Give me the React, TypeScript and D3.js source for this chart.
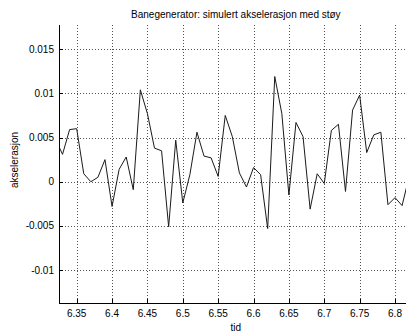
import React from "react";
import * as d3 from "d3";

// Sample times (s) and simulated acceleration with noise
const tid = [
  6.32, 6.33, 6.34, 6.35, 6.36, 6.37, 6.38, 6.39, 6.4, 6.41,
  6.42, 6.43, 6.44, 6.45, 6.46, 6.47, 6.48, 6.49, 6.5, 6.51,
  6.52, 6.53, 6.54, 6.55, 6.56, 6.57, 6.58, 6.59, 6.6, 6.61,
  6.62, 6.63, 6.64, 6.65, 6.66, 6.67, 6.68, 6.69, 6.7, 6.71,
  6.72, 6.73, 6.74, 6.75, 6.76, 6.77, 6.78, 6.79, 6.8, 6.81, 6.82,
];
const akselerasjon = [
  0.0048, 0.0031, 0.0059, 0.006, 0.0009, 0.0, 0.0005, 0.0025, -0.0028, 0.0014,
  0.0028, -0.0009, 0.0104, 0.0077, 0.0038, 0.0035, -0.0051, 0.0047, -0.0024, 0.0008,
  0.0056, 0.0029, 0.0027, 0.0006, 0.0075, 0.0051, 0.001, -0.0006, 0.0016, 0.0008,
  -0.0053, 0.0119, 0.0077, -0.0015, 0.0067, 0.0051, -0.0031, 0.0009, -0.0002, 0.0058,
  0.0065, -0.0011, 0.0081, 0.0098, 0.0033, 0.0053, 0.0056, -0.0026, -0.0018, -0.0027, 0.0006,
];

const xTicks = [6.35, 6.4, 6.45, 6.5, 6.55, 6.6, 6.65, 6.7, 6.75, 6.8];
const yTicks = [-0.01, -0.005, 0, 0.005, 0.01, 0.015];
const xDomain = [6.325, 6.825];
const yDomain = [-0.01372, 0.01773];

const W = 406;
const H = 336;
const left = 59;
const right = 412.7;
const top = 25;
const bottom = 303;
const font = "'Liberation Sans', Arial, Helvetica, sans-serif";

export default function App() {
  const x = d3.scaleLinear().domain(xDomain).range([left, right]);
  const y = d3.scaleLinear().domain(yDomain).range([bottom, top]);
  const line = d3
    .line<number>()
    .x((_, i) => x(tid[i]))
    .y((d) => y(d));

  const fmt = (v: number) => String(+v.toFixed(4));

  return (
    <svg
      width={W}
      height={H}
      style={{ position: "absolute", left: 0, top: 0, background: "#fff" }}
    >
      <defs>
        <clipPath id="plotArea">
          <rect x={left} y={top} width={right - left} height={bottom - top} />
        </clipPath>
      </defs>
      <rect x={0} y={0} width={W} height={H} fill="#fff" />

      {/* grid */}
      <g stroke="#555" strokeWidth={1} strokeDasharray="1,2" shapeRendering="crispEdges">
        {xTicks.map((t) => (
          <line key={"gx" + t} x1={Math.round(x(t)) + 0.5} x2={Math.round(x(t)) + 0.5} y1={top} y2={bottom} />
        ))}
        {yTicks.map((t) => (
          <line key={"gy" + t} x1={left} x2={right} y1={Math.round(y(t)) + 0.5} y2={Math.round(y(t)) + 0.5} />
        ))}
      </g>

      {/* data line */}
      <path
        d={line(akselerasjon) || ""}
        fill="none"
        stroke="#1a1a1a"
        strokeWidth={1}
        clipPath="url(#plotArea)"
      />

      {/* axes */}
      <g stroke="#000" strokeWidth={1} shapeRendering="crispEdges">
        <line x1={left + 0.5} x2={left + 0.5} y1={top} y2={bottom + 0.5} />
        <line x1={left} x2={right} y1={bottom + 0.5} y2={bottom + 0.5} />
        {xTicks.map((t) => (
          <line key={"tx" + t} x1={Math.round(x(t)) + 0.5} x2={Math.round(x(t)) + 0.5} y1={bottom} y2={bottom - 4} />
        ))}
        {yTicks.map((t) => (
          <line key={"ty" + t} x1={left} x2={left + 4} y1={Math.round(y(t)) + 0.5} y2={Math.round(y(t)) + 0.5} />
        ))}
      </g>

      {/* tick labels */}
      <g fontFamily={font} fontSize={10} fill="#000">
        {xTicks.map((t) => (
          <text key={"lx" + t} x={x(t)} y={317} textAnchor="middle">
            {fmt(t)}
          </text>
        ))}
        {yTicks.map((t) => (
          <text key={"ly" + t} x={54} y={y(t) + 3.5} textAnchor="end">
            {fmt(t)}
          </text>
        ))}
      </g>

      {/* title and axis labels */}
      <text x={(left + right) / 2} y={17.5} textAnchor="middle" fontFamily={font} fontSize={10}>
        Banegenerator: simulert akselerasjon med støy
      </text>
      <text x={(left + right) / 2} y={331} textAnchor="middle" fontFamily={font} fontSize={10}>
        tid
      </text>
      <text
        transform={`translate(17.5, 160) rotate(-90)`}
        textAnchor="middle"
        fontFamily={font}
        fontSize={10}
      >
        akselerasjon
      </text>
    </svg>
  );
}
